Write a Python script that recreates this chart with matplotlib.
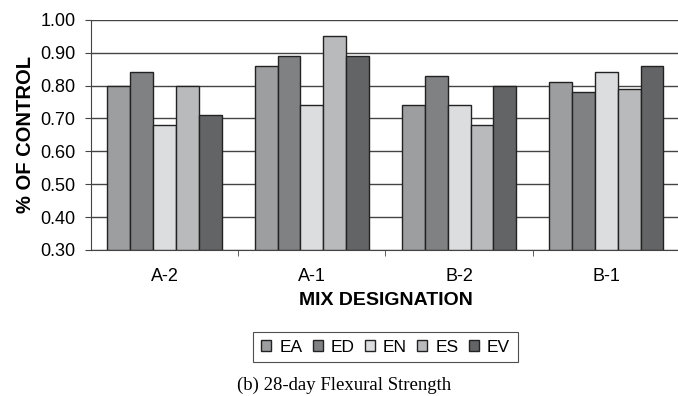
import matplotlib.pyplot as plt
import numpy as np

plt.rcParams["font.family"] = ["Liberation Sans", "DejaVu Sans"]

mixes = ["A-2", "A-1", "B-2", "B-1"]
series = ["EA", "ED", "EN", "ES", "EV"]
ea = [0.80, 0.86, 0.74, 0.81]
ed = [0.84, 0.89, 0.83, 0.78]
en = [0.68, 0.74, 0.74, 0.84]
es = [0.80, 0.95, 0.68, 0.79]
ev = [0.71, 0.89, 0.80, 0.86]
values = [ea, ed, en, es, ev]
colors = ["#9d9ea0", "#808183", "#dcdddf", "#b9babc", "#636466"]

fig = plt.figure(figsize=(6.78, 3.96), dpi=100)
ax = fig.add_axes([0.134, 0.369, 0.869, 0.581])

x = np.arange(len(mixes))
width = 0.155
for i, (name, vals) in enumerate(zip(series, values)):
    offset = (i - 2) * width
    ax.bar(x + offset, np.array(vals) - 0.30, width, bottom=0.30, color=colors[i],
           edgecolor="#222222", linewidth=1.0, label=name, zorder=3)

ax.set_ylim(0.30, 1.00)
ax.set_xlim(-0.5, len(mixes) - 0.5)
yticks = np.arange(0.30, 1.001, 0.10)
ax.set_yticks(yticks)
ax.set_yticklabels([f"{v:.2f}" for v in yticks], fontsize=13)
ax.yaxis.grid(True, color="#444444", linewidth=1.0, zorder=0)
ax.set_axisbelow(True)

ax.set_xticks(x)
ax.set_xticklabels(mixes, fontsize=13)
ax.tick_params(axis="x", length=0, pad=13)
ax.set_xticks(np.arange(0.5, len(mixes) - 0.5), minor=True)
ax.tick_params(axis="x", which="minor", length=4, direction="out", color="#444444")
ax.tick_params(axis="y", length=4, direction="out", color="#444444", pad=7)

for side in ("top", "right"):
    ax.spines[side].set_visible(False)
ax.spines["left"].set_color("#444444")
ax.spines["bottom"].set_color("#444444")

ax.set_ylabel("% OF CONTROL", fontsize=14.5, fontweight="bold", labelpad=4)
ax.set_xlabel("MIX DESIGNATION", fontsize=14, fontweight="bold", labelpad=5)

leg = fig.legend(loc="center", bbox_to_anchor=(385.5 / 678, 1 - 347 / 396), ncol=5,
                 fontsize=12.5, frameon=True, fancybox=False, edgecolor="#222222",
                 handlelength=0.57, handleheight=0.57, handletextpad=0.46,
                 columnspacing=0.6, borderpad=0.45)
leg.get_frame().set_linewidth(0.8)

fig.text(344 / 678, 1 - 385 / 396, "(b) 28-day Flexural Strength", ha="center", va="center",
         fontsize=13.5, family=["Liberation Serif", "DejaVu Serif"])

fig.savefig("out.png", dpi=100)
